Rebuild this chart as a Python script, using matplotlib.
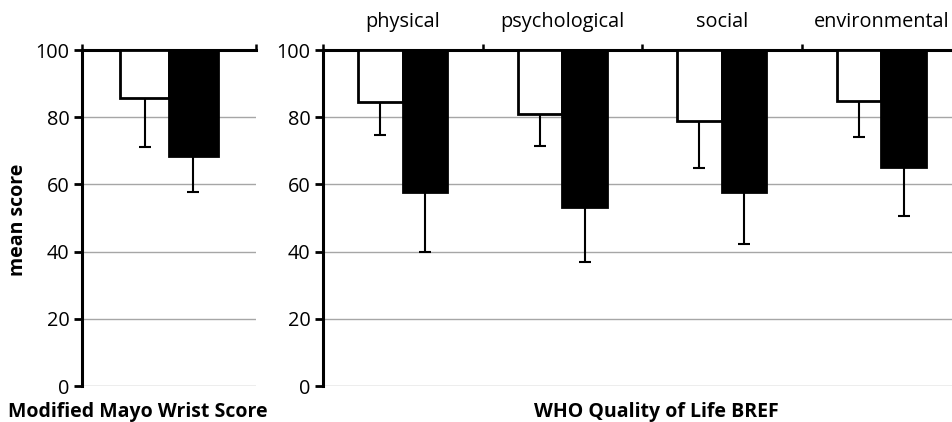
import matplotlib
matplotlib.use("Agg")
import matplotlib.pyplot as plt
import matplotlib.transforms as mtransforms
import numpy as np

plt.rcParams['font.family'] = ['Open Sans', 'DejaVu Sans']

# Left panel: Modified Mayo Wrist Score
mayo_label = "Modified Mayo Wrist Score"
mayo_white = [85.7]
mayo_white_sd = [14.6]
mayo_black = [68.5]
mayo_black_sd = [10.7]

# Right panel: WHO Quality of Life BREF
who_label = "WHO Quality of Life BREF"
who_categories = ["physical", "psychological", "social", "environmental"]
who_white = [84.5, 80.9, 78.9, 84.7]
who_white_sd = [9.7, 9.4, 14.0, 10.7]
who_black = [57.6, 53.3, 57.6, 65.1]
who_black_sd = [17.6, 16.4, 15.2, 14.4]

yticks = [0, 20, 40, 60, 80, 100]
ylabel = "mean score"

W, H = 952, 422
fig = plt.figure(figsize=(W / 100, H / 100), dpi=100)

bw = 0.28
TOP = 100
FS = 14.3
FSB = 14.0


def style(ax, n):
    ax.set_ylim(0, TOP)
    ax.set_xlim(-0.5, n - 0.5)
    for s in ['right', 'bottom']:
        ax.spines[s].set_visible(False)
    ax.spines['left'].set_linewidth(2.2)
    ax.spines['top'].set_linewidth(2.2)
    ax.set_yticks(yticks)
    ax.tick_params(axis='y', direction='out', length=6, width=2, labelsize=FS, pad=3)
    ax.yaxis.grid(True, color='#a6a6a6', linewidth=1)
    ax.set_axisbelow(True)
    ax.xaxis.tick_top()
    ax.set_xticks(np.arange(n + 1) - 0.5)
    ax.set_xticklabels([''] * (n + 1))
    ax.tick_params(axis='x', which='major', direction='out', length=4, width=1.8)


def draw(ax, white, wsd, black, bsd):
    x = np.arange(len(white))
    white = np.array(white)
    black = np.array(black)
    ax.bar(x - bw / 2, TOP - white, bottom=white, width=bw, color='white',
           edgecolor='black', linewidth=2, zorder=3)
    ax.bar(x + bw / 2, TOP - black, bottom=black, width=bw, color='black',
           edgecolor='black', linewidth=2, zorder=3)
    z = np.zeros(len(x))
    ax.errorbar(x - bw / 2, white, yerr=[wsd, z], fmt='none', ecolor='black',
                elinewidth=1.5, capsize=4, capthick=1.5, zorder=2)
    ax.errorbar(x + bw / 2, black, yerr=[bsd, z], fmt='none', ecolor='black',
                elinewidth=1.5, capsize=4, capthick=1.5, zorder=2)


bottom = 1 - 386 / H
height = (386 - 50) / H

ax1 = fig.add_axes([82 / W, bottom, 174 / W, height])
style(ax1, 1)
draw(ax1, mayo_white, mayo_white_sd, mayo_black, mayo_black_sd)

ax2 = fig.add_axes([323 / W, bottom, 638 / W, height])
style(ax2, 4)
draw(ax2, who_white, who_white_sd, who_black, who_black_sd)

trans = mtransforms.blended_transform_factory(ax2.transData, fig.transFigure)
for i, c in enumerate(who_categories):
    ax2.text(i, 1 - 22 / H, c, transform=trans, ha='center', va='center',
             fontsize=FS, clip_on=False)

fig.text(8 / W, 1 - 412 / H, mayo_label, ha='left', va='center',
         fontsize=FSB, fontweight='bold')
fig.text(656 / W, 1 - 412 / H, who_label, ha='center', va='center',
         fontsize=FSB, fontweight='bold')
fig.text(18 / W, 1 - 220 / H, ylabel, ha='center', va='center', rotation=90,
         fontsize=FSB, fontweight='bold')

fig.savefig("out.png", dpi=100)
